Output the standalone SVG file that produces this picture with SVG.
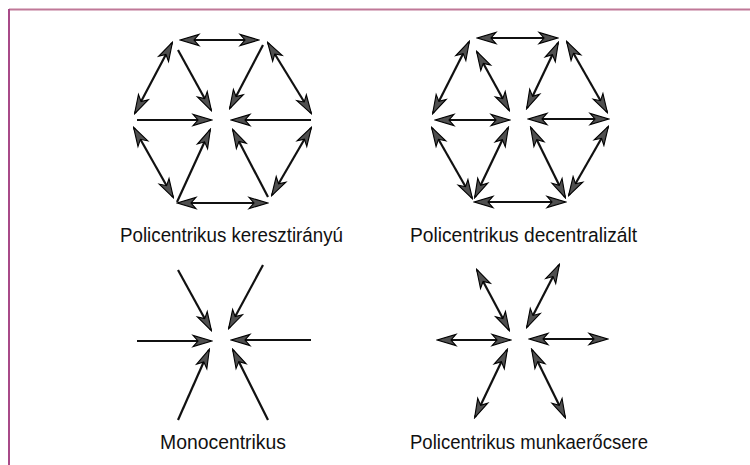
<svg xmlns="http://www.w3.org/2000/svg" width="750" height="465" viewBox="0 0 750 465">
<style>
.c line{stroke:#111;stroke-width:2.2;fill:none}
.s{marker-end:url(#ah)}
.d{marker-start:url(#ah);marker-end:url(#ah)}
.lbl{font-family:"Liberation Sans",Arial,sans-serif;font-size:20.5px;fill:#111}
</style>
<defs>
<marker id="ah" viewBox="-20 -8 22 16" refX="0" refY="0" markerWidth="22" markerHeight="16" markerUnits="userSpaceOnUse" orient="auto-start-reverse">
<path d="M1,0 L-18,-5.6 L-13,0 L-18,5.6 Z" fill="#4f4f4f" stroke="#000" stroke-width="1.1" stroke-linejoin="miter"/>
</marker>
</defs>
<rect width="750" height="465" fill="#fff"/>
<g id="frame">
<line x1="9" y1="9.5" x2="750" y2="9.5" stroke="#c07898" stroke-width="2"/>
<line x1="9" y1="9" x2="9" y2="465" stroke="#a84a88" stroke-width="2"/>
</g>
<g id="connectors" class="c">
<!-- Policentrikus keresztirányú -->
<line class="d" x1="181" y1="40" x2="258" y2="40"/>
<line class="d" x1="172" y1="43" x2="135" y2="113"/>
<line class="s" x1="178" y1="50" x2="211" y2="110"/>
<line class="s" x1="263" y1="45" x2="230" y2="108"/>
<line class="d" x1="268" y1="43" x2="311" y2="113"/>
<line class="s" x1="137" y1="120" x2="211" y2="120"/>
<line class="s" x1="311" y1="120" x2="232" y2="120"/>
<line class="d" x1="134" y1="128" x2="173" y2="197"/>
<line class="s" x1="177" y1="202" x2="210" y2="130"/>
<line class="s" x1="268" y1="197" x2="233" y2="130"/>
<line class="d" x1="311" y1="128" x2="272" y2="195"/>
<line class="d" x1="178" y1="203" x2="267" y2="203"/>
<!-- Policentrikus decentralizált -->
<line class="d" x1="478" y1="38" x2="557" y2="38"/>
<line class="d" x1="469" y1="42" x2="433" y2="113"/>
<line class="d" x1="477" y1="52" x2="509" y2="110"/>
<line class="d" x1="558" y1="43" x2="527" y2="108"/>
<line class="d" x1="567" y1="42" x2="607" y2="112"/>
<line class="d" x1="436" y1="120" x2="509" y2="120"/>
<line class="d" x1="529" y1="119" x2="608" y2="119"/>
<line class="d" x1="432" y1="128" x2="472" y2="198"/>
<line class="d" x1="475" y1="197" x2="508" y2="128"/>
<line class="d" x1="531" y1="128" x2="565" y2="197"/>
<line class="d" x1="608" y1="127" x2="569" y2="195"/>
<line class="d" x1="475" y1="202" x2="565" y2="202"/>
<!-- Monocentrikus -->
<line class="s" x1="178" y1="270" x2="211" y2="330"/>
<line class="s" x1="263" y1="265" x2="229" y2="328"/>
<line class="s" x1="137" y1="341" x2="211" y2="341"/>
<line class="s" x1="311" y1="340" x2="232" y2="340"/>
<line class="s" x1="178" y1="420" x2="209" y2="350"/>
<line class="s" x1="268" y1="420" x2="233" y2="350"/>
<!-- Policentrikus munkaerőcsere -->
<line class="d" x1="477" y1="270" x2="509" y2="330"/>
<line class="d" x1="559" y1="265" x2="527" y2="327"/>
<line class="d" x1="438" y1="340" x2="510" y2="340"/>
<line class="d" x1="530" y1="339" x2="607" y2="339"/>
<line class="d" x1="507" y1="350" x2="475" y2="417"/>
<line class="d" x1="532" y1="350" x2="565" y2="417"/>
</g>
<g id="label-keresztiranyu"><text class="lbl" x="120" y="242" textLength="223" lengthAdjust="spacingAndGlyphs">Policentrikus keresztirányú</text></g>
<g id="label-decentralizalt"><text class="lbl" x="410" y="242" textLength="227" lengthAdjust="spacingAndGlyphs">Policentrikus decentralizált</text></g>
<g id="label-monocentrikus"><text class="lbl" x="160" y="449" textLength="126" lengthAdjust="spacingAndGlyphs">Monocentrikus</text></g>
<g id="label-munkaerocsere"><text class="lbl" x="410" y="449" textLength="238" lengthAdjust="spacingAndGlyphs">Policentrikus munkaerőcsere</text></g>
</svg>
